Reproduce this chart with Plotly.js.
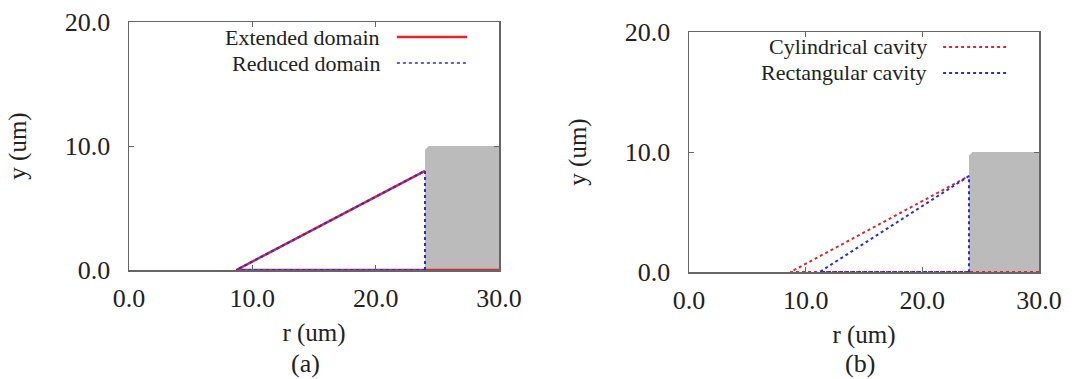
<!DOCTYPE html>
<html>
<head>
<meta charset="utf-8">
<script src="https://cdn.plot.ly/plotly-3.0.1.min.js"></script>
<style>html,body{margin:0;padding:0;background:#fff;}#chart{width:1091px;height:379px;}</style>
</head>
<body>
<div id="chart"></div>
<script>
// Panel (a)
const extendedX = [30, 8.7, 24];
const extendedY = [0, 0, 8];
const reducedX = [24, 8.7, 24, 24];
const reducedY = [0, 0, 8, 0];
const blockAX = [24, 24, 24.3, 30, 30];
const blockAY = [0, 9.7, 10, 10, 0];
// Panel (b)
const cylindricalX = [30, 8.7, 24];
const cylindricalY = [0, 0, 8];
const rectangularX = [24, 11.2, 24, 24];
const rectangularY = [0, 0, 8, 0];
const blockBX = [24, 24, 24.3, 30, 30];
const blockBY = [0, 9.7, 10, 10, 0];

const tickVals = [0, 10, 20, 30];
const tickText = ["0.0", "10.0", "20.0", "30.0"];
const yTickVals = [0, 10, 20];
const yTickText = ["0.0", "10.0", "20.0"];
const legendA = ["Extended domain", "Reduced domain"];
const legendB = ["Cylindrical cavity", "Rectangular cavity"];
const panelLabels = ["(a)", "(b)"];

const RED = "#e0262a", BLUE = "#2a2ae6", GREY = "#bbbbbb";
const FONT = "Liberation Serif, Times New Roman, serif";

const traces = [
  {x: blockAX, y: blockAY, xaxis: "x", yaxis: "y", mode: "lines", fill: "toself", fillcolor: GREY, line: {color: GREY, width: 0}, hoverinfo: "skip", showlegend: false},
  {x: extendedX, y: extendedY, xaxis: "x", yaxis: "y", mode: "lines", line: {color: RED, width: 2.5}, name: legendA[0], showlegend: false},
  {x: reducedX, y: reducedY, xaxis: "x", yaxis: "y", mode: "lines", line: {color: BLUE, width: 2, dash: "dot"}, name: legendA[1], showlegend: false},
  {x: blockBX, y: blockBY, xaxis: "x2", yaxis: "y2", mode: "lines", fill: "toself", fillcolor: GREY, line: {color: GREY, width: 0}, hoverinfo: "skip", showlegend: false},
  {x: cylindricalX, y: cylindricalY, xaxis: "x2", yaxis: "y2", mode: "lines", line: {color: RED, width: 2, dash: "dot"}, name: legendB[0], showlegend: false},
  {x: rectangularX, y: rectangularY, xaxis: "x2", yaxis: "y2", mode: "lines", line: {color: BLUE, width: 2, dash: "dot"}, name: legendB[1], showlegend: false}
];

function xax(domain, anchor) {
  return {domain: domain, anchor: anchor, range: [0, 30], tickvals: tickVals, ticktext: tickText,
    ticks: "inside", ticklen: 5, tickcolor: "#666", showline: true, linecolor: "#666", linewidth: 1.5,
    mirror: "ticks", showgrid: false, zeroline: false, tickfont: {family: FONT, size: 26, color: "#222"},
    ticklabelstandoff: 4,
    title: {text: "r (um)", font: {family: FONT, size: 25, color: "#222"}, standoff: 12}, automargin: false, fixedrange: true};
}
function yax(domain, anchor) {
  return {domain: domain, anchor: anchor, range: [0, 20], tickvals: yTickVals, ticktext: yTickText,
    ticks: "inside", ticklen: 5, tickcolor: "#666", showline: true, linecolor: "#666", linewidth: 1.5,
    mirror: "ticks", showgrid: false, zeroline: false, tickfont: {family: FONT, size: 26, color: "#222"},
    ticklabelstandoff: 12,
    title: {text: "y (um)", font: {family: FONT, size: 25, color: "#222"}, standoff: 31}, automargin: false, fixedrange: true};
}

const annotations = [];
const shapes = [];
function legend(xref, yref, labels, rows, textX, lineX0, lineX1, styles) {
  labels.forEach((t, i) => {
    annotations.push({xref: xref + " domain", yref: yref + " domain", x: textX, y: rows[i], xanchor: "right", yanchor: "middle",
      text: t, showarrow: false, font: {family: FONT, size: 22, color: "#222"}});
    shapes.push({type: "line", xref: xref + " domain", yref: yref + " domain", x0: lineX0, x1: lineX1, y0: rows[i], y1: rows[i],
      line: styles[i]});
  });
}
legend("x", "y", legendA, [(270 - 37) / 248, (270 - 63) / 248], 0.685, 0.724, 0.914,
  [{color: RED, width: 2.5}, {color: BLUE, width: 1.5, dash: "dot"}]);
legend("x2", "y2", legendB, [(272 - 47) / 240, (272 - 73) / 240], 0.685, 0.726, 0.909,
  [{color: RED, width: 2, dash: "dot"}, {color: BLUE, width: 2, dash: "dot"}]);

annotations.push({xref: "paper", yref: "paper", x: 305 / 1091, y: 1 - 363 / 379, xanchor: "center", yanchor: "middle",
  text: panelLabels[0], showarrow: false, font: {family: FONT, size: 26, color: "#222"}});
annotations.push({xref: "paper", yref: "paper", x: 860 / 1091, y: 1 - 363 / 379, xanchor: "center", yanchor: "middle",
  text: panelLabels[1], showarrow: false, font: {family: FONT, size: 26, color: "#222"}});

const layout = {
  width: 1091, height: 379, margin: {l: 0, r: 0, t: 0, b: 0},
  paper_bgcolor: "#fff", plot_bgcolor: "#fff", showlegend: false,
  xaxis: xax([129 / 1091, 499 / 1091], "y"),
  yaxis: yax([1 - 270 / 379, 1 - 22 / 379], "x"),
  xaxis2: xax([689 / 1091, 1039 / 1091], "y2"),
  yaxis2: yax([1 - 272 / 379, 1 - 32 / 379], "x2"),
  annotations: annotations, shapes: shapes
};

Plotly.newPlot("chart", traces, layout, {displayModeBar: false, staticPlot: true});
</script>
</body>
</html>
